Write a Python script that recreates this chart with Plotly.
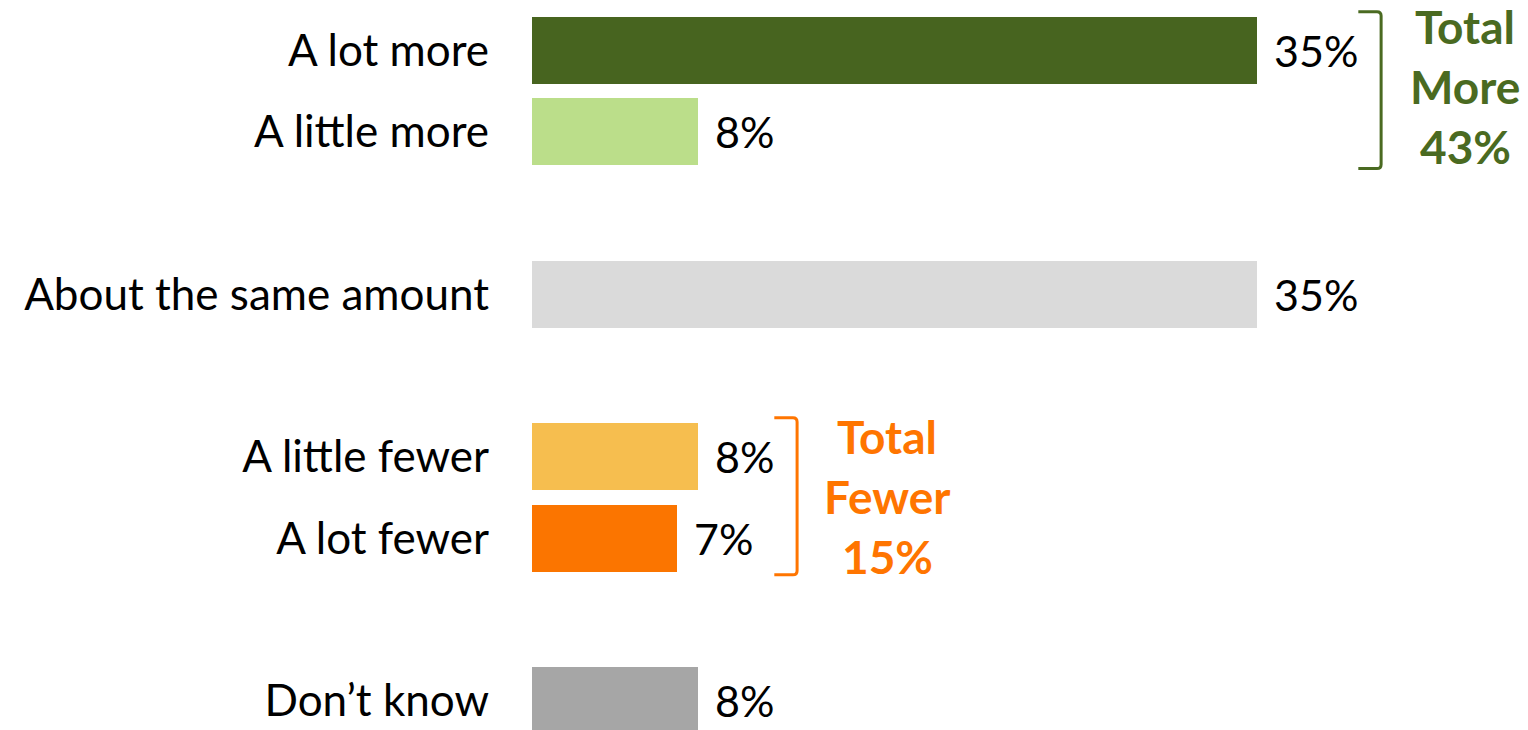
import plotly.graph_objects as go

# ---- data ----
categories = ["A lot more", "A little more", "About the same amount",
              "A little fewer", "A lot fewer", "Don\u2019t know"]
values = [35, 8, 35, 8, 7, 8]
bar_colors = ["#47641F", "#BBDE8A", "#DADADA", "#F6BE4F", "#FB7500", "#A6A6A6"]
value_labels = [f"{v}%" for v in values]

# display order, with blank spacer rows between groups
slot_order = ["A lot more", "A little more", "", "About the same amount", "",
              "A little fewer", "A lot fewer", "", "Don\u2019t know"]

group_names = ["More", "Fewer"]
group_members = [["A lot more", "A little more"], ["A little fewer", "A lot fewer"]]
group_colors = ["#4A6A21", "#FF7500"]
group_gap = [6.0, 4.8]  # bracket distance beyond the largest bar (x units)
group_text_shift = [4, 0]
group_text_xshift = [84, 90]

FONT = "Lato"
slot_index = {}
for i, c in enumerate(slot_order):
    if c:
        slot_index[c] = i
y_pos = [slot_index[c] for c in categories]

fig = go.Figure()
fig.add_trace(go.Bar(
    x=values, y=y_pos, orientation="h",
    marker=dict(color=bar_colors, line=dict(width=0)),
    width=0.825, hoverinfo="skip",
))

annotations = []
for v, y, t in zip(values, y_pos, value_labels):
    annotations.append(dict(x=v, y=y, text=t, xanchor="left", yanchor="middle",
                            xshift=15, showarrow=False,
                            font=dict(family=FONT, size=43, color="#000000")))

shapes = []
for name, members, col, gap, tshift, txs in zip(group_names, group_members, group_colors,
                                                group_gap, group_text_shift, group_text_xshift):
    idx = [categories.index(m) for m in members]
    xmax = max(values[i] for i in idx)
    total = sum(values[i] for i in idx)
    ys = [y_pos[i] for i in idx]
    y_top = min(ys) - 0.48
    y_bot = max(ys) + 0.45
    xv = xmax + gap
    xt = xv - 1.1
    rx, ry = 0.2, 0.05
    path = (f"M {xt},{y_top} L {xv-rx},{y_top} Q {xv},{y_top} {xv},{y_top+ry} "
            f"L {xv},{y_bot-ry} Q {xv},{y_bot} {xv-rx},{y_bot} L {xt},{y_bot}")
    shapes.append(dict(type="path", path=path, xref="x", yref="y",
                       line=dict(color=col, width=3)))
    lines = ["Total", name, f"{total}%"]
    for k, ln in enumerate(lines):
        annotations.append(dict(x=xv, y=(y_top + y_bot) / 2,
                                text=f"<b>{ln}</b>",
                                xanchor="center", yanchor="middle",
                                xshift=txs, yshift=tshift + (1 - k) * 60,
                                showarrow=False,
                                font=dict(family=FONT, size=46, color=col)))

fig.update_layout(
    width=1528, height=730,
    margin=dict(l=532, r=0, t=10, b=0),
    paper_bgcolor="white", plot_bgcolor="white",
    showlegend=False,
    bargap=0,
    hovermode=False,
    shapes=shapes, annotations=annotations,
    font=dict(family=FONT, size=44, color="#000000"),
)
fig.update_xaxes(range=[0, 996 / 20.71], visible=False, showgrid=False, zeroline=False)
fig.update_yaxes(
    range=[-0.5 + 720 / 81.25, -0.5],
    tickmode="array", tickvals=y_pos, ticktext=categories,
    showgrid=False, zeroline=False, showline=False, ticks="",
    ticklabelstandoff=42,
    tickfont=dict(family=FONT, size=44, color="#000000"),
)

# remove the default 8px page margin so the figure fills the window exactly
fig.write_html("out.html",
               config={"displayModeBar": False, "staticPlot": True},
               post_script="document.body.style.margin='0';document.body.style.overflow='hidden';")
